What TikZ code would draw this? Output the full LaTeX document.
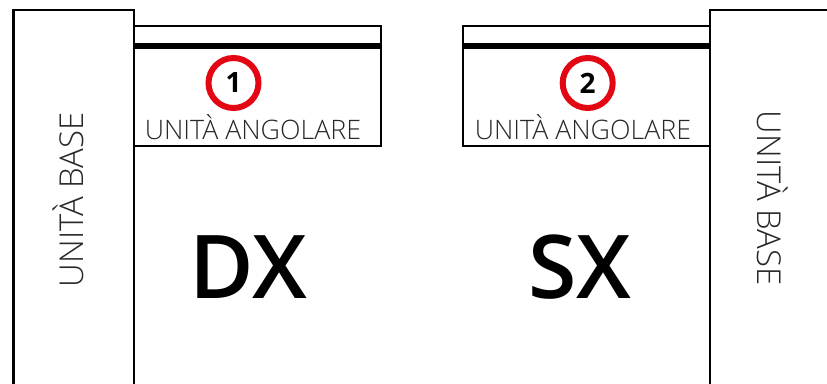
\documentclass[tikz,border=0pt]{standalone}
\usepackage{fontspec}
\setmainfont{Open Sans}
\newfontfamily\lightfont{Open Sans Light}
\newfontfamily\semifont{Open Sans Semibold}
\definecolor{mkred}{RGB}{227,6,19}
\definecolor{labgray}{RGB}{40,40,40}
\begin{document}
\begin{tikzpicture}[x=1pt,y=-1pt,
  frame/.style={draw=black,line width=2.2pt},
  rail/.style={draw=black,line width=6pt},
  badge/.style={circle,draw=mkred,line width=6pt,minimum size=50pt,inner sep=0pt},
  num/.style={font=\bfseries\fontsize{28}{28}\selectfont},
  lab/.style={font=\lightfont\fontsize{26.8}{27}\selectfont,text=labgray,anchor=base,inner sep=0pt},
  vlab/.style={font=\lightfont\fontsize{32.9}{33}\selectfont,text=labgray,anchor=base,inner sep=0pt},
  big/.style={font=\semifont\fontsize{88}{88}\selectfont,anchor=base,inner sep=0pt}]
\useasboundingbox (0,0) rectangle (827,383);
% left base unit
\draw[frame] (13.5,390) -- (13.5,10) -- (134,10) -- (134,390);
% left corner unit
\draw[frame] (134,26) rectangle (381,146);
\draw[rail] (134,46) -- (381,46);
% right corner unit
\draw[frame] (463,26) rectangle (710,146);
\draw[rail] (463,46) -- (710,46);
% right base unit
\draw[frame] (710,390) -- (710,10) -- (835,10);
% badges
\node[badge] (b1) at (233.5,83) {};
\node[num] (n1) at (b1.center) {1};
\node[badge] (b2) at (587.7,83) {};
\node[num] (n2) at (b2.center) {2};
% labels
\node[lab] (l1) at (253,139) {UNITÀ ANGOLARE};
\node[lab] (l2) at (583,139) {UNITÀ ANGOLARE};
\node[vlab,rotate=90] (v1) at (83,200) {UNITÀ BASE};
\node[vlab,rotate=-90] (v2) at (757,198) {UNITÀ BASE};
\node[big] (dx) at (248.5,298) {DX};
\node[big] (sx) at (580,298) {SX};
\end{tikzpicture}
\end{document}
